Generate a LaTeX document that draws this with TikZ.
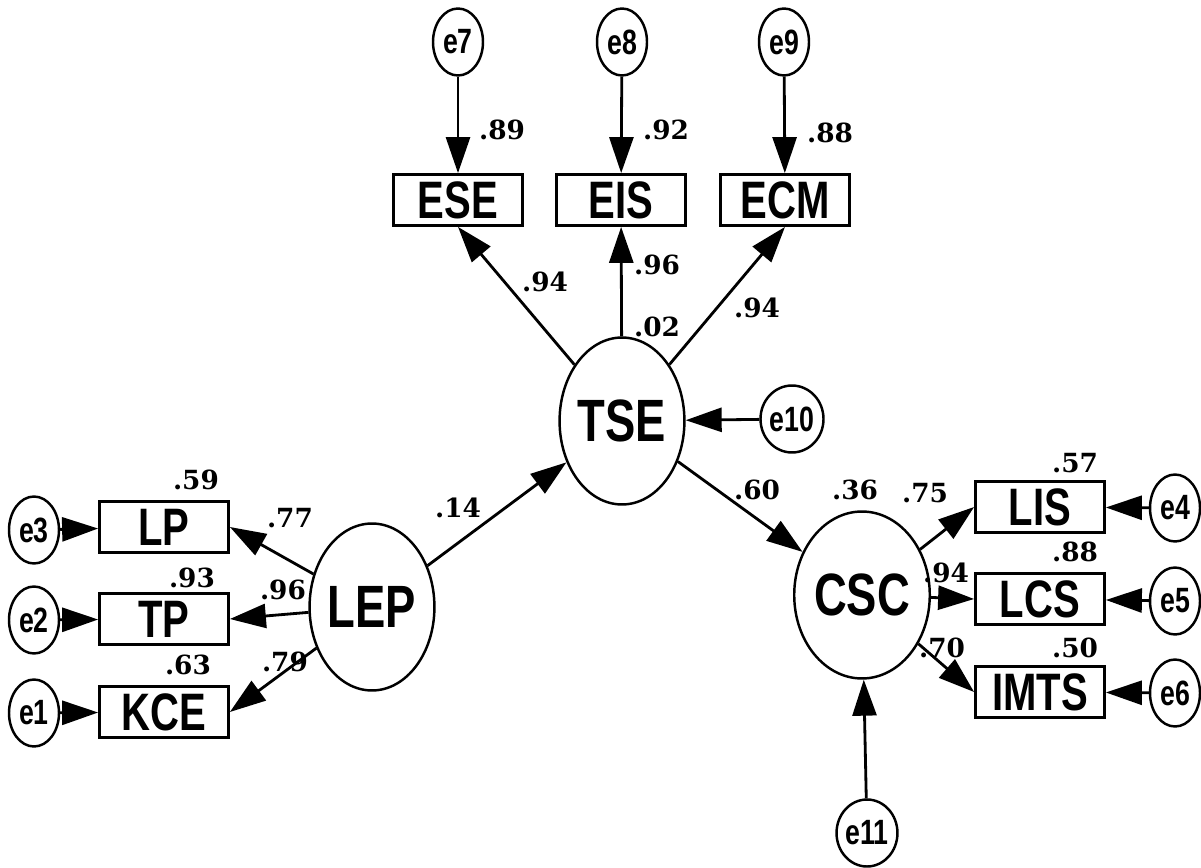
\documentclass[tikz,border=0pt]{standalone}
\usepackage{fontspec}
\newfontfamily\nodefont[FakeStretch=0.76]{Liberation Sans}
\newfontfamily\numfont{DejaVu Serif}
\usetikzlibrary{arrows.meta,shapes.geometric}
\begin{document}
\begin{tikzpicture}[x=0.02cm,y=-0.02cm,
  obs/.style={draw, line width=1.6pt, rectangle, minimum width=2.58cm, minimum height=1.02cm, inner sep=0pt, font=\nodefont\bfseries\fontsize{30}{30}\selectfont},
  lat/.style={draw, line width=1.4pt, ellipse, minimum width=2.36cm, minimum height=3.34cm, inner sep=0pt, font=\nodefont\bfseries\fontsize{34}{34}\selectfont},
  err/.style={draw, line width=1.4pt, ellipse, minimum width=1.0cm, minimum height=1.34cm, inner sep=0pt, font=\nodefont\bfseries\fontsize{20}{20}\selectfont},
  lbl/.style={font=\numfont\bfseries\fontsize{15}{15}\selectfont, inner sep=0pt},
  arr/.style={line width=1.6pt, -{Triangle[length=0.72cm,width=0.48cm]}}
]
\useasboundingbox (0,0) rectangle (1201,868);
\fill[white] (0,0) rectangle (1201,868);

% latent variables
\node[lat] (TSE) at (622,421) {TSE};
\node[lat] (LEP) at (372,607) {LEP};
\node[lat] (CSC) at (862,595) {CSC};

% observed variables
\node[obs] (ESE) at (458,200) {ESE};
\node[obs] (EIS) at (621,200) {EIS};
\node[obs] (ECM) at (785,200) {ECM};
\node[obs] (LP) at (164,527) {LP};
\node[obs] (TP) at (164,619) {TP};
\node[obs] (KCE) at (164,712) {KCE};
\node[obs] (LIS) at (1040,507) {LIS};
\node[obs] (LCS) at (1040,599) {LCS};
\node[obs] (IMTS) at (1040,692) {IMTS};

% errors
\node[err] (e7) at (458,42) {e7};
\node[err] (e8) at (622,42) {e8};
\node[err] (e9) at (784,42) {e9};
\node[err] (e10) at (792,419) {e10};
\node[err] (e3) at (34,530) {e3};
\node[err] (e2) at (34,620) {e2};
\node[err] (e1) at (34,713) {e1};
\node[err] (e4) at (1175,508) {e4};
\node[err] (e5) at (1175,601) {e5};
\node[err] (e6) at (1175,693) {e6};
\node[err] (e11) at (867,833) {e11};

% arrows
\draw[arr] (e7) -- (ESE);
\draw[arr] (e8) -- (EIS);
\draw[arr] (e9) -- (ECM);
\draw[arr] (TSE) -- (ESE.south);
\draw[arr] (TSE) -- (EIS);
\draw[arr] (TSE) -- (ECM.south);
\draw[arr] (e10) -- (TSE);
\draw[arr] (LEP) -- (TSE);
\draw[arr] (LEP) -- (LP.east);
\draw[arr] (LEP) -- (TP.east);
\draw[arr] (LEP) -- (KCE.east);
\draw[arr] (e3) -- (LP);
\draw[arr] (e2) -- (TP);
\draw[arr] (e1) -- (KCE);
\draw[arr] (TSE) -- (CSC);
\draw[arr] (CSC) -- (LIS.west);
\draw[arr] (CSC) -- (LCS.west);
\draw[arr] (CSC) -- (IMTS.west);
\draw[arr] (e4) -- (LIS);
\draw[arr] (e5) -- (LCS);
\draw[arr] (e6) -- (IMTS);
\draw[arr] (e11) -- (CSC);

% labels
\node[lbl] (l89) at (502,130) {.89};
\node[lbl] (l92) at (666,130) {.92};
\node[lbl] (l88a) at (830,133) {.88};
\node[lbl] (l94a) at (545,282) {.94};
\node[lbl] (l96a) at (657,265) {.96};
\node[lbl] (l02) at (657,327) {.02};
\node[lbl] (l94b) at (757,308) {.94};
\node[lbl] (l14) at (458,508) {.14};
\node[lbl] (l60) at (757,490) {.60};
\node[lbl] (l59) at (196,480) {.59};
\node[lbl] (l77) at (290,518) {.77};
\node[lbl] (l93) at (192,578) {.93};
\node[lbl] (l96b) at (283,590) {.96};
\node[lbl] (l63) at (188,665) {.63};
\node[lbl] (l79) at (285,662) {.79};
\node[lbl] (l57) at (1075,463) {.57};
\node[lbl] (l36) at (855,490) {.36};
\node[lbl] (l75) at (925,493) {.75};
\node[lbl] (l88b) at (1075,552) {.88};
\node[lbl] (l94c) at (946,573) {.94};
\node[lbl] (l70) at (942,648) {.70};
\node[lbl] (l50) at (1075,648) {.50};
\end{tikzpicture}
\end{document}
